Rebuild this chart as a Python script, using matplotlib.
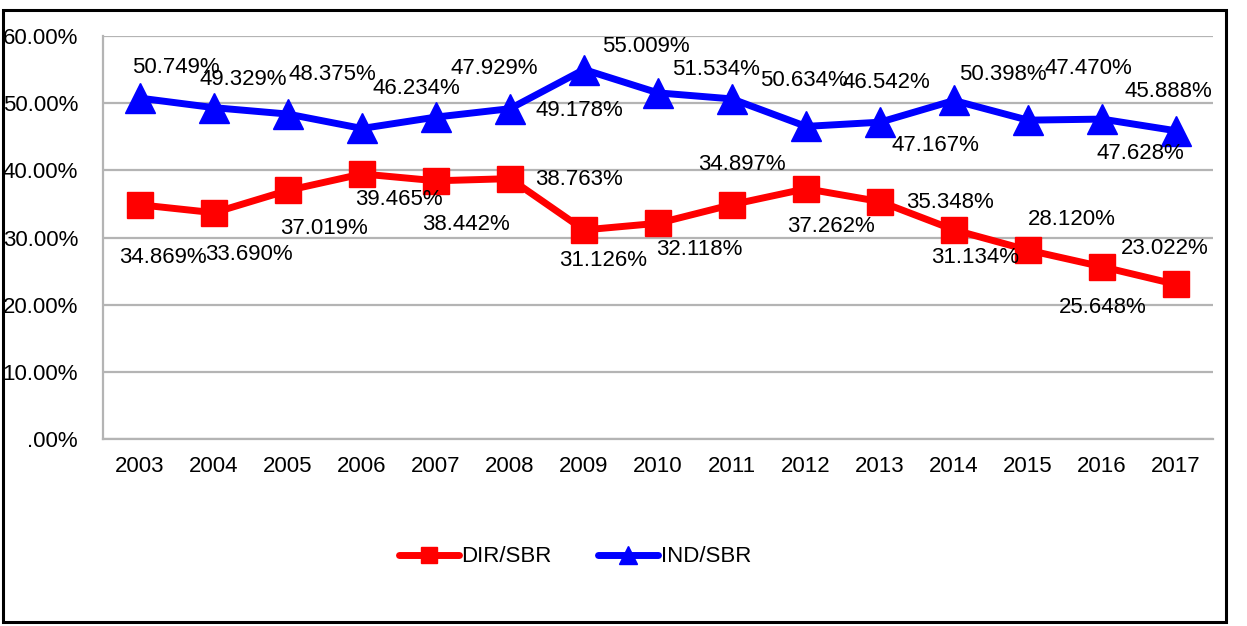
import matplotlib
matplotlib.use('Agg')
import matplotlib.pyplot as plt
from matplotlib.patches import Rectangle

plt.rcParams['font.family'] = ['Liberation Sans', 'DejaVu Sans']

years = ['2003', '2004', '2005', '2006', '2007', '2008', '2009', '2010',
         '2011', '2012', '2013', '2014', '2015', '2016', '2017']
dir_sbr = [34.869, 33.690, 37.019, 39.465, 38.442, 38.763, 31.126, 32.118,
           34.897, 37.262, 35.348, 31.134, 28.120, 25.648, 23.022]
ind_sbr = [50.749, 49.329, 48.375, 46.234, 47.929, 49.178, 55.009, 51.534,
           50.634, 46.542, 47.167, 50.398, 47.470, 47.628, 45.888]
yticks = [0, 10, 20, 30, 40, 50, 60]
ytick_labels = ['.00%', '10.00%', '20.00%', '30.00%', '40.00%', '50.00%', '60.00%']

# label offsets in pixels (dx, dy), as placed in the original chart
dir_off = [(23, -53), (35, -42), (36, -38), (37, -26), (30, -44), (69, -1), (19, -31),
           (41, -26), (10, 40), (25, -38), (70, -1), (21, -28), (44, 31), (1, -41), (-11, 36)]
ind_off = [(36, 31), (29, 28), (44, 40), (54, 40), (58, 49), (69, -2), (62, 23),
           (58, 23), (72, 18), (80, 44), (55, -23), (49, 26), (60, 52), (38, -34), (-8, 39)]

fs = 16

fig = plt.figure(figsize=(12.47, 6.26), dpi=100)
ax = fig.add_axes([103 / 1247, 1 - 439 / 626, 1110 / 1247, 403 / 626])

x = list(range(len(years)))
ax.plot(x, dir_sbr, color='#ff0000', lw=5, marker='s', ms=19,
        solid_capstyle='round', solid_joinstyle='round', label='DIR/SBR', zorder=3)
ax.plot(x, ind_sbr, color='#0000ff', lw=5, marker='^', ms=21,
        solid_capstyle='round', solid_joinstyle='round', label='IND/SBR', zorder=3)

for xi, v, (dx, dy) in zip(x, dir_sbr, dir_off):
    ax.annotate(f'{v:.3f}%', (xi, v), xytext=(dx, dy), textcoords='offset pixels',
                ha='center', va='center', fontsize=fs, zorder=4)
for xi, v, (dx, dy) in zip(x, ind_sbr, ind_off):
    ax.annotate(f'{v:.3f}%', (xi, v), xytext=(dx, dy), textcoords='offset pixels',
                ha='center', va='center', fontsize=fs, zorder=4)

ax.set_xlim(-0.5, len(years) - 0.5)
ax.set_ylim(0, 60)
ax.set_xticks(x)
ax.set_xticklabels(years, fontsize=fs)
ax.set_yticks(yticks)
ax.set_yticklabels(ytick_labels, fontsize=fs)
ax.tick_params(length=0)
ax.tick_params(axis='y', pad=18)
ax.tick_params(axis='x', pad=12)
ax.grid(axis='y', color='#b4b4b4', lw=1.6)
ax.set_axisbelow(True)
for s in ['top', 'right']:
    ax.spines[s].set_visible(False)
for s in ['left', 'bottom']:
    ax.spines[s].set_color('#b4b4b4')
    ax.spines[s].set_linewidth(1.6)

fig.legend(loc='center', bbox_to_anchor=(575 / 1247, 1 - 557 / 626), ncol=2,
           frameon=False, fontsize=fs, markerscale=0.6, handlelength=2.7,
           handletextpad=0.1, columnspacing=2.1)

fig.patches.append(Rectangle((3 / 1247, 1 - 622 / 626), 1223 / 1247, 612 / 626,
                             transform=fig.transFigure, fill=False,
                             edgecolor='black', lw=2.2))

fig.savefig('out.png', dpi=100)
